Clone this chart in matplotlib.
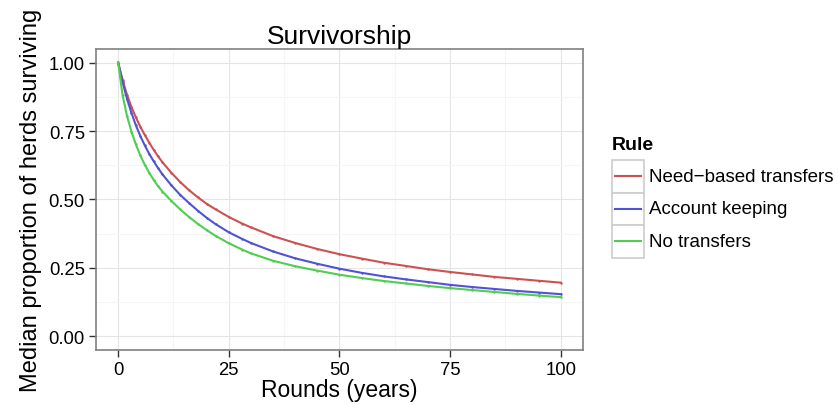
import matplotlib as mpl
import numpy as np
mpl.rcParams.update({'font.family': ['Liberation Sans', 'DejaVu Sans'], 'font.size': 11})
from matplotlib import pyplot as plt
from matplotlib.patches import Rectangle
from matplotlib.lines import Line2D

# values
rounds = [0, 1, 2, 3, 4, 5, 6, 7, 8, 9, 10, 12, 14, 16, 18, 20, 22, 25, 28, 30,
          35, 40, 45, 50, 55, 60, 65, 70, 75, 80, 85, 90, 95, 100]
need_based = [1.0, 0.937, 0.882, 0.838, 0.800, 0.766, 0.736, 0.708, 0.682, 0.658, 0.636,
              0.598, 0.564, 0.534, 0.508, 0.484, 0.464, 0.436, 0.412, 0.398,
              0.366, 0.341, 0.319, 0.300, 0.284, 0.269, 0.257, 0.245, 0.235, 0.226,
              0.217, 0.210, 0.203, 0.196]
account = [1.0, 0.928, 0.868, 0.816, 0.771, 0.732, 0.698, 0.667, 0.640, 0.615, 0.592,
           0.552, 0.517, 0.487, 0.459, 0.433, 0.410, 0.380, 0.356, 0.341,
           0.310, 0.285, 0.265, 0.247, 0.232, 0.219, 0.208, 0.198, 0.188, 0.180,
           0.173, 0.166, 0.160, 0.154]
no_transfers = [1.0, 0.880, 0.805, 0.748, 0.701, 0.661, 0.627, 0.598, 0.572, 0.549, 0.529,
                0.495, 0.464, 0.436, 0.411, 0.388, 0.367, 0.340, 0.317, 0.303,
                0.276, 0.256, 0.240, 0.225, 0.213, 0.202, 0.193, 0.184, 0.176, 0.169,
                0.162, 0.155, 0.149, 0.143]
labels = ["Need\u2212based transfers", "Account keeping", "No transfers"]
colors = ['#CC5252', '#5252D4', '#52CC52']

fig = plt.figure(figsize=(8.38, 4.06), dpi=100)
ax = fig.add_axes([0.1146, 0.1355, 0.581, 0.7415])

for y, c in zip([need_based, account, no_transfers], colors):
    ax.plot(rounds, y, color=c, lw=1.5, marker='.', ms=1.5, zorder=3)

ax.set_xlim(-5, 105)
ax.set_ylim(-0.05, 1.05)
ax.set_xticks([0, 25, 50, 75, 100])
ax.set_xticks([12.5, 37.5, 62.5, 87.5], minor=True)
ax.set_yticks([0, 0.25, 0.5, 0.75, 1.0])
ax.set_yticklabels(['0.00', '0.25', '0.50', '0.75', '1.00'])
ax.set_yticks([0.125, 0.375, 0.625, 0.875], minor=True)
ax.grid(which='major', color='#e5e5e5', lw=0.8)
ax.grid(which='minor', color='#f5f5f5', lw=0.8)
ax.set_axisbelow(True)
ax.tick_params(which='major', direction='out', length=5, width=1, color='#333333',
               labelsize=13.3, labelcolor='black', pad=3)
ax.tick_params(which='minor', length=0)
for s in ax.spines.values():
    s.set_color('#808080')
    s.set_linewidth(1.2)

ax.set_title("Survivorship", fontsize=19, pad=4)
ax.set_xlabel("Rounds (years)", fontsize=16.5, labelpad=0)
ax.set_ylabel("Median proportion of herds surviving", fontsize=17, labelpad=5)

# ggplot-style legend
fig.text(612 / 838, 1 - 146 / 406, "Rule", fontsize=14, fontweight='bold', va='center')
key_w, key_h = 32 / 838, 32.5 / 406
for i, (lab, c) in enumerate(zip(labels, colors)):
    y0 = 1 - (161 + 32.5 * (i + 1)) / 406
    x0 = 612 / 838
    fig.add_artist(Rectangle((x0, y0), key_w, key_h, transform=fig.transFigure,
                             facecolor='white', edgecolor='#cccccc', lw=1.2))
    fig.add_artist(Line2D([x0 + 0.1 * key_w, x0 + 0.9 * key_w], [y0 + key_h / 2] * 2,
                          transform=fig.transFigure, color=c, lw=1.5))
    fig.text(x0 + key_w + 5 / 838, y0 + key_h / 2, lab, fontsize=13.5, va='center')

fig.savefig("out.png", dpi=100)
